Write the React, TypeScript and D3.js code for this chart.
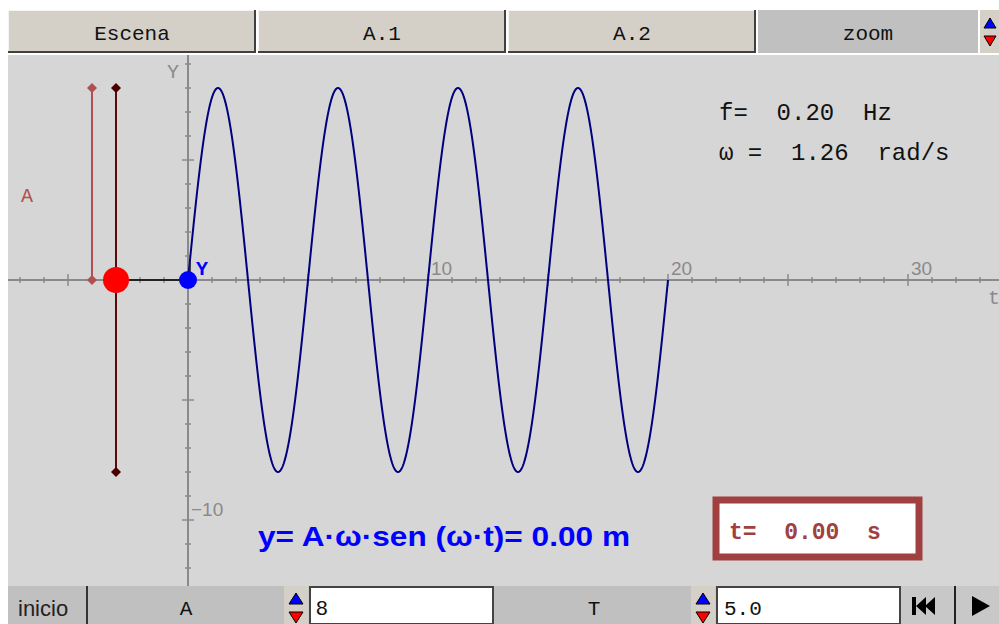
import React from "react";
import * as d3 from "d3";

const W = 999;
const H = 624;

// parameters shown in the scene
const amplitude = 8; // A
const period = 5.0; // T
const timeEnd = 20; // curve drawn up to t = 20
const freqText = "f=  0.20  Hz";
const omegaText = "ω =  1.26  rad/s";
const formulaText = "y= A·ω·sen (ω·t)= 0.00 m";
const timeText = "t=  0.00  s";

const xTickLabels = [10, 20, 30];
const yTickLabels = [-10];
const topButtons = ["Escena", "A.1", "A.2", "zoom"];
const ampBarX = -4;
const massX = -3;

const MONO = "'Liberation Mono', 'DejaVu Sans Mono', monospace";
const SANS = "'Liberation Sans', Arial, sans-serif";
const PRE = { whiteSpace: "pre" as const };

export default function App() {
  const x = d3.scaleLinear().domain([0, 1]).range([188, 212]);
  const y = d3.scaleLinear().domain([0, 1]).range([280, 256]);

  const plotTop = 55;
  const plotBottom = 586;
  const plotLeft = 8;

  const omega = (2 * Math.PI) / period;
  const samples = d3.range(0, timeEnd + 1e-9, 0.02);
  const line = d3
    .line<number>()
    .x((t) => x(t))
    .y((t) => y(amplitude * Math.sin(omega * t)));

  const xMin = Math.ceil(x.invert(plotLeft));
  const xMax = Math.floor(x.invert(W));
  const xTicks = d3.range(xMin, xMax + 1).filter((v) => v !== 0);
  const yMax = Math.floor(y.invert(plotTop));
  const yMin = Math.ceil(y.invert(plotBottom));
  const yTicks = d3.range(yMin, yMax + 1).filter((v) => v !== 0);

  const axisColor = "#8a8a8a";
  const diamond = (cx: number, cy: number, r: number) =>
    `M${cx},${cy - r}L${cx + r},${cy}L${cx},${cy + r}L${cx - r},${cy}Z`;

  const btnW = 248;

  return (
    <svg
      width={W}
      height={H}
      style={{ position: "absolute", left: 0, top: 0, background: "#fff" }}
    >
      {/* plot background */}
      <rect x={plotLeft} y={plotTop} width={W - plotLeft} height={plotBottom - plotTop} fill="#d6d6d6" />

      {/* top buttons */}
      {topButtons.map((b, i) => {
        const bx = 8 + i * (btnW + 2);
        const w = i === 3 ? 220 : btnW;
        const pressed = i === 3;
        return (
          <g key={b}>
            <rect x={bx} y={10} width={w} height={43} fill={pressed ? "#c0c0c0" : "#d4d0c8"} />
            {!pressed && (
              <>
                <line x1={bx} y1={10.5} x2={bx + w} y2={10.5} stroke="#f4f4f4" />
                <line x1={bx + 0.5} y1={10} x2={bx + 0.5} y2={53} stroke="#f4f4f4" />
                <line x1={bx + w - 1} y1={10} x2={bx + w - 1} y2={53} stroke="#404040" strokeWidth={2} />
                <line x1={bx} y1={52} x2={bx + w} y2={52} stroke="#404040" strokeWidth={2} />
              </>
            )}
            <text x={bx + w / 2} y={40} textAnchor="middle" fontFamily={MONO} fontSize={21} fill="#111">
              {b}
            </text>
          </g>
        );
      })}
      {/* top spinner */}
      <rect x={980} y={10} width={19} height={43} fill="#d4d0c8" />
      <path d="M984,28 L990,18 L996,28 Z" fill="#0000ff" stroke="#000" strokeWidth={1} />
      <path d="M984,36 L990,46 L996,36 Z" fill="#ff0000" stroke="#000" strokeWidth={1} />

      {/* axes */}
      <line x1={plotLeft} x2={W} y1={y(0)} y2={y(0)} stroke={axisColor} strokeWidth={2} />
      <line x1={x(0)} x2={x(0)} y1={plotTop} y2={plotBottom} stroke={axisColor} strokeWidth={2} />
      {xTicks.map((v) => {
        const len = v % 5 === 0 ? 6 : 3;
        return <line key={"xt" + v} x1={x(v)} x2={x(v)} y1={y(0) - len} y2={y(0) + len} stroke={axisColor} strokeWidth={1.5} />;
      })}
      {yTicks.map((v) => {
        const len = v % 5 === 0 ? 6 : 3;
        return <line key={"yt" + v} x1={x(0) - len} x2={x(0) + len} y1={y(v)} y2={y(v)} stroke={axisColor} strokeWidth={1.5} />;
      })}
      {xTickLabels.map((v) => (
        <text key={"xl" + v} x={x(v) + 3} y={y(0) - 5} fontFamily={SANS} fontSize={19} fill="#8a8a8a">
          {v}
        </text>
      ))}
      {yTickLabels.map((v) => (
        <text key={"yl" + v} x={x(0) + 3} y={y(v) - 4} fontFamily={SANS} fontSize={19} fill="#8a8a8a">
          {"−" + Math.abs(v)}
        </text>
      ))}
      <text x={167} y={78} fontFamily={MONO} fontSize={20} fill="#8a8a8a">Y</text>
      <text x={988} y={304} fontFamily={MONO} fontSize={20} fill="#8a8a8a">t</text>

      {/* curve */}
      <path d={line(samples) || ""} fill="none" stroke="#000080" strokeWidth={2} />

      {/* amplitude bar */}
      <line x1={x(ampBarX)} x2={x(ampBarX)} y1={y(amplitude)} y2={y(0)} stroke="#b05050" strokeWidth={2} />
      <path d={diamond(x(ampBarX), y(amplitude), 5)} fill="#b05050" />
      <path d={diamond(x(ampBarX), y(0), 5)} fill="#b05050" />
      <text x={21} y={202} fontFamily={MONO} fontSize={20} fill="#b05050">A</text>

      {/* mass bar */}
      <line x1={x(massX)} x2={x(massX)} y1={y(amplitude)} y2={y(-amplitude)} stroke="#5a0a0a" strokeWidth={2} />
      <path d={diamond(x(massX), y(amplitude), 5)} fill="#4a0000" />
      <path d={diamond(x(massX), y(-amplitude), 5)} fill="#4a0000" />
      <line x1={x(massX)} x2={x(0)} y1={y(0)} y2={y(0)} stroke="#222" strokeWidth={2} />
      <circle cx={x(massX)} cy={y(0)} r={13} fill="#ff0000" />
      <line x1={x(0) + 2} x2={x(0) + 2} y1={y(0) - 18} y2={y(0)} stroke="#222" strokeWidth={1.5} />
      <circle cx={x(0)} cy={y(0)} r={9} fill="#0000ff" />
      <text x={196} y={275} fontFamily={MONO} fontWeight="bold" fontSize={20} fill="#0000ff">Y</text>

      {/* info text */}
      <text x={719} y={120} fontFamily={MONO} fontSize={24} fill="#111" style={PRE}>{freqText}</text>
      <text x={719} y={160} fontFamily={MONO} fontSize={24} fill="#111" style={PRE}>{omegaText}</text>

      {/* formula */}
      <text x={258} y={546} fontFamily={SANS} fontWeight="bold" fontSize={27} fill="#0000ff" textLength={372} lengthAdjust="spacingAndGlyphs">
        {formulaText}
      </text>

      {/* time box */}
      <rect x={716} y={500} width={203} height={57} fill="#ffffff" stroke="#a04040" strokeWidth={7} />
      <text x={729} y={539} fontFamily={MONO} fontWeight="bold" fontSize={23} fill="#a04040" style={PRE}>{timeText}</text>

      {/* bottom bar */}
      <rect x={8} y={586} width={W - 8} height={38} fill="#c8c8c8" />
      <rect x={8} y={586} width={80} height={38} fill="#c0c0c0" />
      <line x1={87} x2={87} y1={586} y2={624} stroke="#333" strokeWidth={2} />
      <text x={18} y={616} fontFamily={SANS} fontSize={22} fill="#222">inicio</text>
      <rect x={88} y={586} width={196} height={38} fill="#c0c0c0" />
      <text x={186} y={615} textAnchor="middle" fontFamily={MONO} fontSize={21} fill="#111">A</text>
      <rect x={284} y={586} width={24} height={38} fill="#d4d0c8" />
      <path d="M289,604 L296,593 L303,604 Z" fill="#0000ff" stroke="#000" strokeWidth={1} />
      <path d="M289,612 L296,623 L303,612 Z" fill="#ff0000" stroke="#000" strokeWidth={1} />
      <rect x={310} y={587} width={183} height={37} fill="#ffffff" stroke="#444" strokeWidth={2} />
      <text x={316} y={615} fontFamily={SANS} fontSize={21} fill="#111">8</text>
      <rect x={494} y={586} width={197} height={38} fill="#c0c0c0" />
      <text x={594} y={615} textAnchor="middle" fontFamily={MONO} fontSize={21} fill="#111">T</text>
      <rect x={691} y={586} width={24} height={38} fill="#d4d0c8" />
      <path d="M696,604 L703,593 L710,604 Z" fill="#0000ff" stroke="#000" strokeWidth={1} />
      <path d="M696,612 L703,623 L710,612 Z" fill="#ff0000" stroke="#000" strokeWidth={1} />
      <rect x={717} y={587} width={183} height={37} fill="#ffffff" stroke="#444" strokeWidth={2} />
      <text x={724} y={615} fontFamily={MONO} fontSize={21} fill="#111">5.0</text>
      <rect x={903} y={586} width={52} height={38} fill="#c8c8c8" />
      <line x1={955} x2={955} y1={586} y2={624} stroke="#222" strokeWidth={2} />
      <rect x={912} y={597} width={4} height={18} fill="#000" />
      <path d="M916,606 L926,597 L926,615 Z" fill="#000" />
      <path d="M925,606 L935,597 L935,615 Z" fill="#000" />
      <path d="M972,596 L990,606 L972,616 Z" fill="#000" />
    </svg>
  );
}
